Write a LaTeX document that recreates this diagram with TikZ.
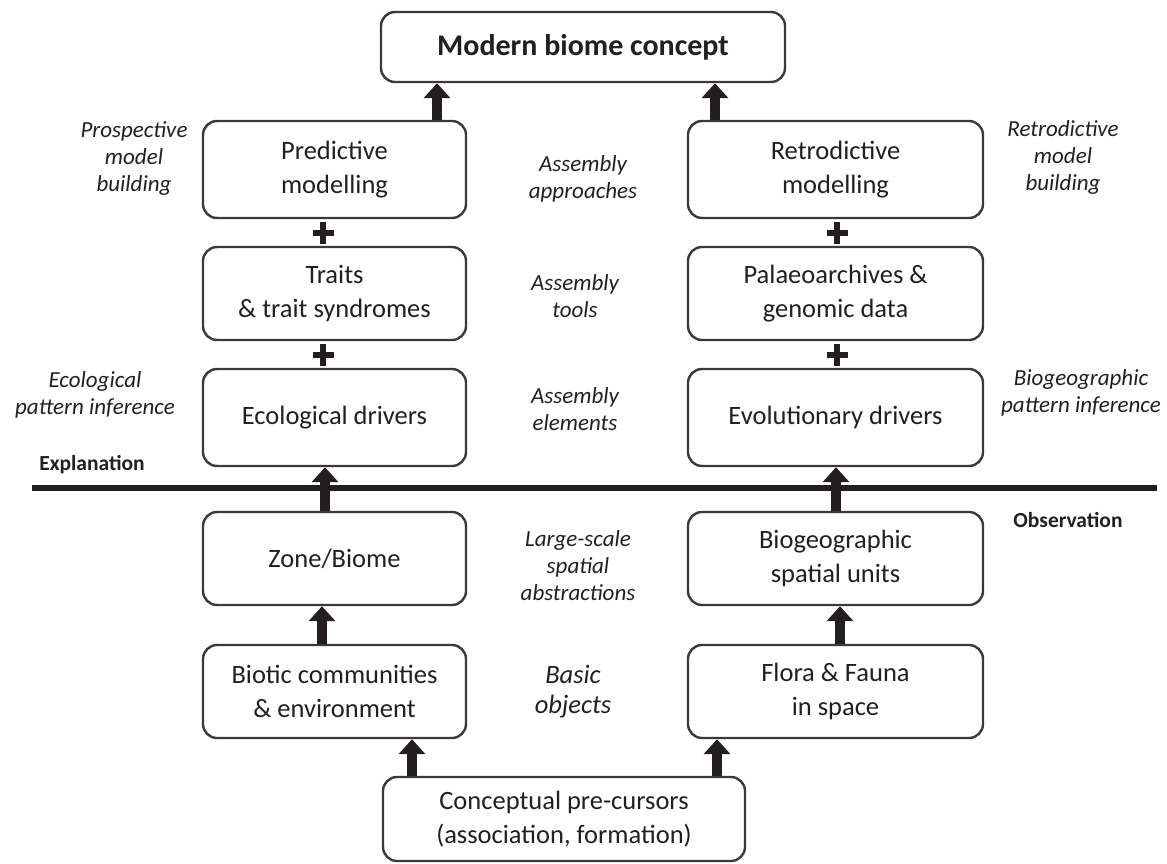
\documentclass[tikz,border=0pt]{standalone}
\usepackage{fontspec}
\setmainfont{Carlito}
\usetikzlibrary{arrows.meta,calc}
\definecolor{ink}{HTML}{231F20}
\definecolor{frame}{HTML}{3A3A3A}
\begin{document}
\begin{tikzpicture}[x=1pt,y=-1pt,
 box/.style={draw=frame,line width=2.4pt,rounded corners=14pt,fill=white,align=center,text=ink,font=\fontsize{26.5}{34}\selectfont,inner sep=0pt},
 lbl/.style={align=center,text=ink,font=\fontsize{23}{27}\selectfont\itshape,inner sep=0pt},
 side/.style={align=center,text=ink,font=\fontsize{21.5}{26}\selectfont\bfseries,inner sep=0pt},
 up/.style={draw=ink,line width=10pt,-{Triangle[width=26pt,length=15pt]}},
 plusbar/.style={draw=ink,line width=6pt},
 divider/.style={draw=ink,line width=6pt},
]
\useasboundingbox (0,0) rectangle (1167,864);

% boxes
\node[box,minimum width=404pt,minimum height=70pt,font=\fontsize{30}{36}\selectfont\bfseries] (modern) at (583,47) {Modern biome concept};
\node[box,minimum width=263pt,minimum height=97pt] (pred) at (334.5,169.5) {Predictive\\modelling};
\node[box,minimum width=295pt,minimum height=97pt] (retro) at (835.5,169.5) {Retrodictive\\modelling};
\node[box,minimum width=263pt,minimum height=93pt] (traits) at (334.5,293.5) {Traits\\\& trait syndromes};
\node[box,minimum width=295pt,minimum height=93pt] (palaeo) at (835.5,293.5) {Palaeoarchives \&\\genomic data};
\node[box,minimum width=263pt,minimum height=97pt] (eco) at (334.5,417.5) {Ecological drivers};
\node[box,minimum width=295pt,minimum height=97pt] (evol) at (835.5,417.5) {Evolutionary drivers};
\node[box,minimum width=263pt,minimum height=93pt] (zone) at (334.5,558.5) {Zone/Biome};
\node[box,minimum width=295pt,minimum height=93pt] (biogeo) at (835.5,558.5) {Biogeographic\\spatial units};
\node[box,minimum width=263pt,minimum height=93pt] (biotic) at (334.5,691.5) {Biotic communities\\\& environment};
\node[box,minimum width=295pt,minimum height=93pt] (flora) at (835.5,691.5) {Flora \& Fauna\\in space};
\node[box,minimum width=362pt,minimum height=84pt] (concept) at (564,819) {Conceptual pre-cursors\\(association, formation)};

% divider line
\coordinate (lineL) at (32,488);
\coordinate (lineR) at (1157,488);
\draw[divider] (lineL) -- (lineR);

% arrows
\draw[up] ([xshift=102.5pt]pred.north) -- ([xshift=102.5pt]pred.north |- modern.south);
\draw[up] ([xshift=-120.5pt]retro.north) -- ([xshift=-120.5pt]retro.north |- modern.south);
\draw[up] ([xshift=-9.5pt]zone.north) -- ([xshift=-9.5pt]eco.south);
\draw[up] ([xshift=0.5pt]biogeo.north) -- ([xshift=0.5pt]evol.south);
\draw[up] ([xshift=-12.5pt]biotic.north) -- ([xshift=-12.5pt]zone.south);
\draw[up] ([xshift=4.5pt]flora.north) -- ([xshift=4.5pt]biogeo.south);
\draw[up] ([xshift=-152pt]concept.north) -- ([xshift=-152pt]concept.north |- biotic.south);
\draw[up] ([xshift=153pt]concept.north) -- ([xshift=153pt]concept.north |- flora.south);

% plus signs
\coordinate (p1) at ($([xshift=-11.5pt]pred.south)!0.5!([xshift=-11.5pt]traits.north)$);
\coordinate (p2) at ($([xshift=-11.5pt]traits.south)!0.5!([xshift=-11.5pt]eco.north)$);
\coordinate (p3) at ($([xshift=1.5pt]retro.south)!0.5!([xshift=1.5pt]palaeo.north)$);
\coordinate (p4) at ($([xshift=1.5pt]palaeo.south)!0.5!([xshift=1.5pt]evol.north)$);
\foreach \p in {p1,p2,p3,p4}{
  \draw[plusbar] ([xshift=-10.5pt]\p) -- ([xshift=10.5pt]\p);
  \draw[plusbar] ([yshift=-11pt]\p) -- ([yshift=11pt]\p);
}

% labels
\node[lbl] (lprosp) at (134,159) {Prospective\\model\\building};
\node[lbl] (lretro) at (1063,157) {Retrodictive\\model\\building};
\node[lbl] (lappr) at (583,179) {Assembly\\approaches};
\node[lbl] (ltools) at (575,296) {Assembly\\tools};
\node[lbl] (lelem) at (575,409) {Assembly\\elements};
\node[lbl] (leco) at (95,395) {Ecological\\pattern inference};
\node[lbl] (lbio) at (1081,393) {Biogeographic\\pattern inference};
\node[side] (lexpl) at (92,465) {Explanation};
\node[side] (lobs) at (1068,520) {Observation};
\node[lbl] (llarge) at (578,566) {Large-scale\\spatial\\abstractions};
\node[lbl,font=\fontsize{26.5}{30}\selectfont\itshape] (lbasic) at (573,692) {Basic\\objects};
\end{tikzpicture}
\end{document}
